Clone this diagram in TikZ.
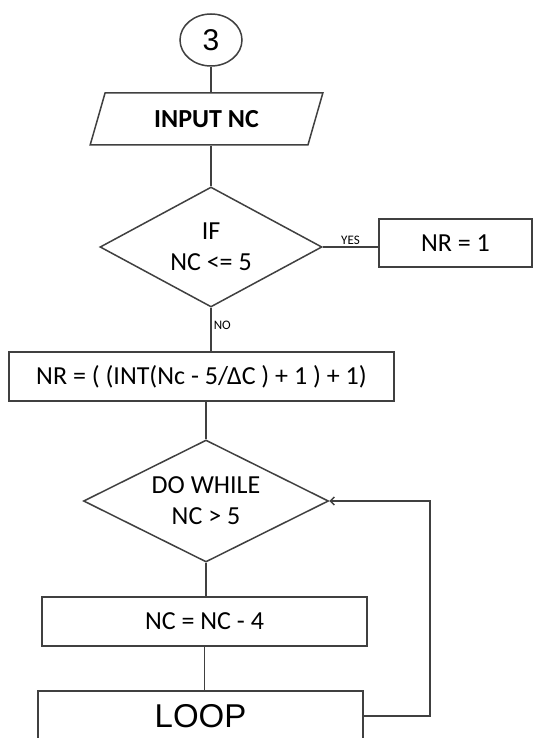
\documentclass[tikz,border=0pt]{standalone}
\usepackage{fontspec}
\setmainfont{Carlito}
\newfontfamily\arialfont{Liberation Sans}
\usetikzlibrary{shapes.geometric,arrows.meta}
\tikzset{
    flow-line/.style = {draw=black!75, line width=1.5pt},
    flow-box/.style = {flow-line, rectangle, inner sep=0pt, font=\fontsize{26}{30}\selectfont},
    flow-io/.style = {flow-line, trapezium, trapezium left angle=66, trapezium right angle=114, trapezium stretches=true, inner sep=0pt, font=\bfseries\fontsize{26}{30}\selectfont},
    flow-test/.style = {flow-line, diamond, shape aspect=2, inner sep=0pt, align=center, font=\fontsize{26}{31}\selectfont},
    flow-link/.style = {flow-line, ellipse, inner sep=0pt, font=\arialfont\fontsize{30}{32}\selectfont},
    flow-tag/.style = {font=\fontsize{13}{14}\selectfont, inner sep=2pt},
}

\begin{document}
\begin{tikzpicture}[x=1pt, y=-1pt]
\useasboundingbox (0,0) rectangle (533,738);
\clip (0,0) rectangle (533,738);
\fill[white] (0,0) rectangle (533,738);

\node [flow-link, minimum width=62pt, minimum height=52pt] (conn) at (211,40) {3};
\node [flow-io, minimum width=233pt, minimum height=52pt] (input) at (206.5,119) {INPUT NC};
\node [flow-test, minimum width=222pt, minimum height=120pt] (iftest) at (211,247) {IF\\NC <= 5};
\node [flow-box, minimum width=153pt, minimum height=48pt] (nrone) at (455.5,243) {NR = 1};
\node [flow-box, minimum width=385pt, minimum height=49pt] (nrcalc) at (201.5,376.5) {NR = ( (INT(Nc - 5/ΔC ) + 1 ) + 1)};
\node [flow-test, minimum width=245pt, minimum height=122pt] (dowhile) at (206,501) {DO WHILE\\NC > 5};
\node [flow-box, minimum width=325pt, minimum height=49pt] (ncdec) at (204.5,621.5) {NC = NC - 4};
\node [flow-box, minimum width=325pt, minimum height=50pt, font=\arialfont\fontsize{33}{36}\selectfont] (loop) at (200.5,716) {LOOP};

% connectors
\draw [flow-line] (conn.south) -- (conn.south |- input.north);
\draw [flow-line] (input.south -| iftest.north) -- (iftest.north);
\draw [flow-line] (iftest.east) -- node[flow-tag, above] {YES} (iftest.east -| nrone.west);
\draw [flow-line] (iftest.south) -- node[flow-tag, right, pos=0.4] {NO} (iftest.south |- nrcalc.north);
\draw [flow-line] (dowhile.north |- nrcalc.south) -- (dowhile.north);
\draw [flow-line] (dowhile.south) -- (dowhile.south |- ncdec.north);
\draw [flow-line] (ncdec.south) -- (ncdec.south |- loop.north);
\draw [flow-line, -{Straight Barb[length=4pt,width=8pt]}] (loop.east) -- ++(66,0) |- (dowhile.east);
\end{tikzpicture}
\end{document}
